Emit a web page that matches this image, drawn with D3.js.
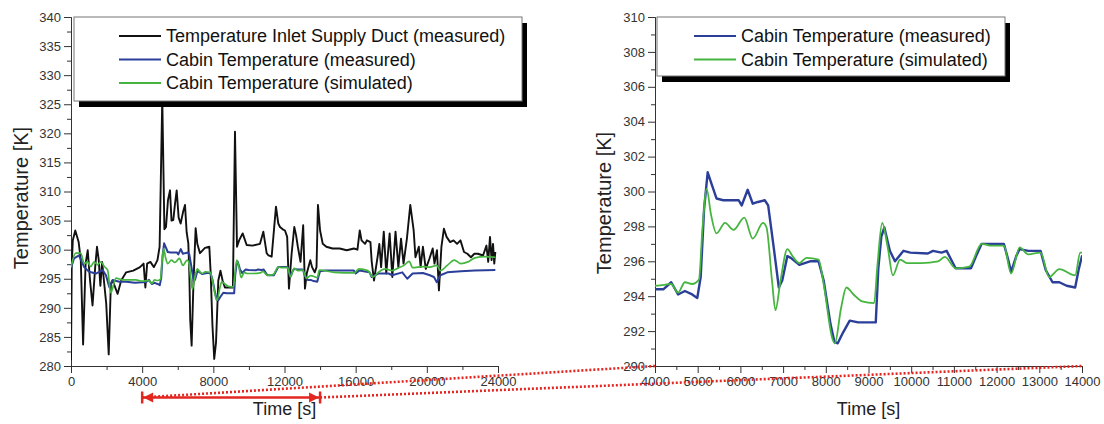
<!DOCTYPE html>
<html>
<head>
<meta charset="utf-8">
<title>Cabin temperature</title>
<script src="https://cdn.jsdelivr.net/npm/d3@7/dist/d3.min.js"></script>
<style>
  body { margin: 0; background: #fff; }
  svg { font-family: "Liberation Sans", Arial, sans-serif; }
  .axis path, .axis line { stroke: #333; }
  .axis text { fill: #333; font-size: 13px; font-family: "Liberation Sans", Arial, sans-serif; }
</style>
</head>
<body>
<script>
// supply duct temperature (measured), [time s, K]
var ductData = [[0,281],[40,297],[100,301.6],[240,303.3],[430,301.3],[550,298.2],[680,283.7],[820,297.6],[940,299.9],
  [1070,294.7],[1210,290.4],[1360,297],[1460,300.5],[1560,298.2],[1650,293.8],[1750,297.9],[1850,294.7],[1980,290.7],
  [2120,282],[2240,294.1],[2340,294.7],[2620,292.4],[2820,294.7],[3100,296.1],[3500,296.4],[3880,297],[4080,297.6],
  [4180,293.5],[4280,297.6],[4460,297.9],[4660,297],[4860,298.2],[4980,300.5],[5130,326],[5250,303.5],[5340,303.9],
  [5450,308.5],[5565,310.2],[5650,305],[5750,305.1],[5850,308],[5940,310.2],[6050,305.5],[6163,304.5],[6300,306.5],
  [6407,307.7],[6500,303],[6594,301.1],[6650,296],[6700,288],[6780,283.5],[6880,294],[7006,303.7],[7100,301],
  [7250,299.4],[7530,300.3],[7775,300.5],[7850,296],[7950,287],[8050,281.2],[8150,284],[8280,294.7],[8400,296.4],
  [8520,294.7],[8650,293.5],[8900,293.5],[9100,293.5],[9217,320.3],[9330,300.5],[9450,301.6],[9648,302.8],
  [9873,300.8],[10200,300.7],[10622,301],[10810,303.1],[10997,299.4],[11100,299],[11278,298.8],[11521,307.4],
  [11650,304.5],[11746,303.9],[11900,303.5],[12027,303.3],[12150,302.2],[12250,293.3],[12400,299.3],[12550,303.9],
  [12650,302.5],[12750,300.5],[12900,297.9],[13050,304.2],[13150,293.3],[13250,295.9],[13450,298.2],[13550,297],
  [13700,296.1],[13800,297],[13880,307.7],[14000,303.3],[14150,301],[14350,300.5],[14700,300.2],[15100,300.2],
  [15500,299.9],[15900,300.2],[16100,300],[16230,303.3],[16330,301.6],[16530,301],[16630,301.6],[16830,301.3],
  [16900,298],[17030,294.7],[17230,298.7],[17330,301],[17430,297],[17580,303.1],[17720,295.9],[17910,302.8],
  [18060,295.3],[18240,303.1],[18400,297],[18550,301.9],[18690,297.6],[18880,301.9],[19070,307.7],[19260,303.3],
  [19360,298.7],[19550,300.5],[19650,297],[19780,300.5],[19940,296.7],[20140,298.4],[20330,300.2],[20430,297.6],
  [20570,299.9],[20680,293],[20820,300.5],[20960,303.6],[21110,302.2],[21310,301.3],[21500,301.6],[21700,301],
  [21890,301.6],[22090,299.6],[22280,299.3],[22480,298.7],[22670,299.3],[22870,299.3],[23160,299],[23350,300.7],
  [23450,297.9],[23550,302.2],[23640,298.2],[23720,301],[23790,297.6],[23850,299.6]];

// cabin temperature (measured)
var cabinMeasured = [[0,296.8],[170,298.5],[450,299],[600,298],[740,297],[1020,296.2],[1400,295.9],[1780,296.5],
  [1965,295.6],[2150,293.6],[2340,294.8],[2720,294.5],[3100,294.5],[3600,294.3],[4000,294.4],[4200,294.4],
  [4380,294.8],[4540,294.1],[4700,294.3],[4870,294.1],[4990,293.9],[5070,295.1],[5150,299],[5234,301.1],
  [5330,300.4],[5440,299.6],[5600,299.5],[5960,299.5],[6030,299.2],[6170,300.1],[6290,299.3],[6410,299.4],
  [6570,299.5],[6650,299.2],[6780,296.8],[6900,294.5],[6980,294.9],[7100,296.3],[7180,296.2],[7380,295.8],
  [7630,296],[7830,296],[7950,294.9],[8110,292.4],[8200,291.4],[8280,291.3],[8400,291.9],[8560,292.6],
  [8760,292.5],[9170,292.5],[9230,295.6],[9300,297.4],[9370,297.95],[9500,296.6],[9620,296],[9820,296.6],
  [9980,296.5],[10390,296.45],[10510,296.6],[10710,296.5],[10830,296.6],[11040,295.6],[11400,295.6],
  [11520,296.3],[11650,297],[11850,297],[12170,297],[12260,296.2],[12340,295.4],[12460,296.3],[12540,296.7],
  [12740,296.6],[13030,296.6],[13150,295.5],[13310,294.8],[13470,294.8],[13640,294.6],[13840,294.5],
  [13920,295.5],[14000,296.3],[14300,296.4],[15250,296.4],[15900,296.4],[16000,295.9],[16200,296.4],
  [16780,296.1],[16900,295.3],[17270,295.9],[17850,295.9],[18050,295.6],[18620,296.1],[18900,295],
  [19200,295.9],[19780,296],[20170,295.6],[20400,295.3],[20560,294.4],[20760,295.6],[21150,296.1],
  [21920,296.3],[22700,296.4],[23850,296.5]];

// cabin temperature (simulated)
var cabinSimulated = [[0,297],[265,299.4],[550,299.4],[740,297.6],[925,297.9],[1110,297.1],[1300,297.9],
  [1490,297.4],[1680,297.9],[1870,297.1],[2060,296.5],[2230,292.6],[2530,295.1],[2900,294.8],[3650,294.8],
  [4000,294.6],[4220,294.65],[4380,294.7],[4540,294.2],[4700,294.8],[4870,294.7],[5030,294.95],[5110,297.8],
  [5210,300.15],[5310,298.7],[5440,297.6],[5640,298.2],[5840,297.8],[6090,298.5],[6290,297.3],[6530,298.2],
  [6610,297.95],[6740,294.9],[6820,293.2],[6940,294.9],[7100,296.7],[7220,296.3],[7380,295.9],[7550,296.2],
  [7830,296.1],[7950,294.7],[8150,291.6],[8210,291.3],[8360,293.35],[8480,294.5],[8650,294.1],[8850,293.7],
  [9130,293.6],[9210,295.8],[9320,298.2],[9450,296.8],[9570,295.2],[9740,296.1],[9900,295.9],[10230,295.9],
  [10630,296],[10790,296.25],[11040,295.6],[11360,295.7],[11650,297],[11850,296.9],[12170,296.9],[12340,295.3],
  [12540,296.8],[12740,296.4],[13030,296.5],[13230,295.1],[13470,295.55],[13840,295.2],[13960,296.5],
  [14000,296.5],[14800,296.1],[15900,296],[16200,296.7],[16680,296.4],[16970,295.3],[17270,296.1],
  [17660,296.7],[18040,296.4],[18430,296.9],[18720,297.3],[19010,298],[19200,296.9],[19790,297.1],
  [20170,297],[20560,297.3],[20760,296.4],[21150,297.3],[21540,298.2],[21920,297.6],[22310,297.9],
  [22700,298.6],[23280,298.8],[23850,298.7]];

var leftXTicks = [0, 4000, 8000, 12000, 16000, 20000, 24000];
var leftYTicks = [280, 285, 290, 295, 300, 305, 310, 315, 320, 325, 330, 335, 340];
var rightXTicks = [4000, 5000, 6000, 7000, 8000, 9000, 10000, 11000, 12000, 13000, 14000];
var rightYTicks = [290, 292, 294, 296, 298, 300, 302, 304, 306, 308, 310];
var zoomRange = [4000, 14000];

var colors = { duct: "#111111", meas: "#2b3f99", sim: "#45b53f", red: "#e3261f" };

var svg = d3.select("body").append("svg").attr("width", 1104).attr("height", 424);

function minorTicks(ticks) {
    var out = [];
    for (var i = 0; i < ticks.length - 1; i++) out.push((ticks[i] + ticks[i + 1]) / 2);
    return out;
}

function panel(cfg) {
    var x = d3.scaleLinear().domain(cfg.xDomain).range(cfg.xRange);
    var y = d3.scaleLinear().domain(cfg.yDomain).range([366, 17]);
    var g = svg.append("g");

    var clipId = "clip" + cfg.name;
    svg.append("clipPath").attr("id", clipId).append("rect")
        .attr("x", cfg.xRange[0]).attr("y", 0)
        .attr("width", cfg.xRange[1] - cfg.xRange[0]).attr("height", 366);

    // minor + major ticks
    g.append("g").attr("class", "axis").attr("transform", "translate(0,366)")
        .call(d3.axisBottom(x).tickValues(minorTicks(cfg.xTicks)).tickSize(4).tickFormat(""));
    g.append("g").attr("class", "axis").attr("transform", "translate(" + cfg.xRange[0] + ",0)")
        .call(d3.axisLeft(y).tickValues(minorTicks(cfg.yTicks)).tickSize(4).tickFormat(""));
    g.append("g").attr("class", "axis").attr("transform", "translate(0,366)")
        .call(d3.axisBottom(x).tickValues(cfg.xTicks).tickSizeInner(7).tickSizeOuter(0).tickPadding(4).tickFormat(d3.format("d")));
    g.append("g").attr("class", "axis").attr("transform", "translate(" + cfg.xRange[0] + ",0)")
        .call(d3.axisLeft(y).tickValues(cfg.yTicks).tickSizeInner(7).tickSizeOuter(0).tickPadding(3).tickFormat(d3.format("d")));

    var line = d3.line().x(function (d) { return x(d[0]); }).y(function (d) { return y(d[1]); });
    cfg.series.forEach(function (s) {
        g.append("path").datum(s.data)
            .attr("clip-path", "url(#" + clipId + ")")
            .attr("fill", "none")
            .attr("stroke", s.color)
            .attr("stroke-width", s.width)
            .attr("stroke-linejoin", "round")
            .attr("d", line.curve(s.smooth ? d3.curveMonotoneX : d3.curveLinear));
    });

    // axis titles
    g.append("text").attr("x", (cfg.xRange[0] + cfg.xRange[1]) / 2).attr("y", 415)
        .attr("text-anchor", "middle").attr("font-size", 18).attr("fill", "#222").text("Time [s]");
    g.append("text").attr("transform", "translate(" + cfg.titleX + "," + cfg.titleY + ") rotate(-90)")
        .attr("text-anchor", "middle").attr("dy", "0.35em")
        .attr("font-size", 20).attr("fill", "#222").text("Temperature [K]");

    // legend with drop shadow
    var lg = g.append("g").attr("transform", "translate(" + cfg.legend.x + "," + cfg.legend.y + ")");
    lg.append("rect").attr("x", 5).attr("y", 6).attr("width", cfg.legend.w).attr("height", cfg.legend.h).attr("fill", "#000");
    lg.append("rect").attr("width", cfg.legend.w).attr("height", cfg.legend.h)
        .attr("fill", "#fff").attr("stroke", "#777").attr("stroke-width", 1);
    cfg.series.forEach(function (s, i) {
        var cy = cfg.legend.rowY + i * 23.5;
        lg.append("line").attr("x1", cfg.legend.lineX).attr("x2", cfg.legend.lineX + 42)
            .attr("y1", cy).attr("y2", cy).attr("stroke", s.color).attr("stroke-width", 1.8);
        lg.append("text").attr("x", cfg.legend.lineX + 47).attr("y", cy).attr("dy", "0.36em")
            .attr("font-size", 18).attr("fill", "#111").text(s.label);
    });
    return { x: x, y: y };
}

var left = panel({
    name: "L", xDomain: [0, 24000], xRange: [71, 498], yDomain: [280, 340],
    xTicks: leftXTicks, yTicks: leftYTicks, titleX: 21, titleY: 198,
    legend: { x: 74, y: 17, w: 448, h: 84, lineX: 45, rowY: 19 },
    series: [
        { label: "Temperature Inlet Supply Duct (measured)", data: ductData, color: colors.duct, width: 1.9 },
        { label: "Cabin Temperature (measured)", data: cabinMeasured, color: colors.meas, width: 2 },
        { label: "Cabin Temperature (simulated)", data: cabinSimulated, color: colors.sim, width: 1.7, smooth: true }
    ]
});

var right = panel({
    name: "R", xDomain: zoomRange, xRange: [655, 1082], yDomain: [290, 310],
    xTicks: rightXTicks, yTicks: rightYTicks, titleX: 604, titleY: 203,
    legend: { x: 657, y: 17, w: 348, h: 59, lineX: 37, rowY: 19 },
    series: [
        { label: "Cabin Temperature (measured)", data: cabinMeasured, color: colors.meas, width: 2.4 },
        { label: "Cabin Temperature (simulated)", data: cabinSimulated, color: colors.sim, width: 1.8, smooth: true }
    ]
});

// zoom marker: arrow under left axis and dotted guide lines to the right panel
var arrowY = 397.5;
var a0 = left.x(zoomRange[0]), a1 = left.x(zoomRange[1]);
var mark = svg.append("g");
zoomRange.forEach(function (t) {
    mark.append("line")
        .attr("x1", left.x(t)).attr("y1", arrowY)
        .attr("x2", right.x(t)).attr("y2", right.y(290))
        .attr("stroke", colors.red).attr("stroke-width", 2.6)
        .attr("stroke-dasharray", "2,2");
});
mark.append("line").attr("x1", a0).attr("x2", a1).attr("y1", arrowY).attr("y2", arrowY)
    .attr("stroke", colors.red).attr("stroke-width", 2.5);
[a0, a1].forEach(function (ax, i) {
    var dir = i === 0 ? 1 : -1;
    mark.append("line").attr("x1", ax).attr("x2", ax).attr("y1", arrowY - 6).attr("y2", arrowY + 6)
        .attr("stroke", colors.red).attr("stroke-width", 2.5);
    mark.append("path")
        .attr("d", "M" + (ax + dir * 1) + "," + arrowY + "L" + (ax + dir * 11) + "," + (arrowY - 5) +
            "L" + (ax + dir * 11) + "," + (arrowY + 5) + "Z")
        .attr("fill", colors.red);
});
</script>
</body>
</html>
